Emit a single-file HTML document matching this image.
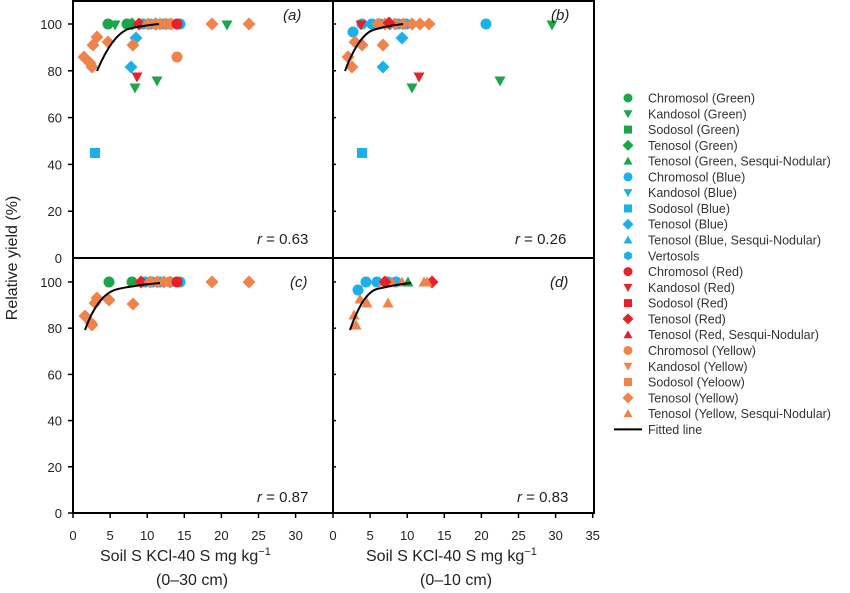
<!DOCTYPE html>
<html><head><meta charset="utf-8"><style>
body{margin:0;background:#fff;width:850px;height:593px;overflow:hidden}
svg{display:block;font-family:"Liberation Sans",sans-serif}
</style></head><body>
<svg id="s" width="850" height="593" viewBox="0 0 850 593" xmlns="http://www.w3.org/2000/svg">
<g stroke="#000" stroke-width="2" fill="none">
<rect x="73" y="1" width="521" height="512"/>
<line x1="333" y1="1" x2="333" y2="513"/>
<line x1="73" y1="258" x2="594" y2="258"/>
</g>
<g id="ax" font-size="13" fill="#222"></g>
<g id="pts"></g>
<g stroke="#000" stroke-width="2" fill="none">
<path d="M97,71 C105,52 115,34 128,29 C140,26 150,25 159,24"/>
<path d="M345,71 C352,52 362,34 373,30 C385,26 395,25 403,24"/>
<path d="M85,330 C92,310 103,292 118,289 C132,286 146,284 160,283"/>
<path d="M350,330 C357,310 366,292 377,289 C390,286 400,284 411,283"/>
</g>
<g font-size="15" fill="#222">
<text x="283" y="20" font-style="italic">(<tspan>a</tspan>)</text>
<text x="551" y="20" font-style="italic">(b)</text>
<text x="290" y="287" font-style="italic">(c)</text>
<text x="550" y="287" font-style="italic">(d)</text>
<text x="257" y="244"><tspan font-style="italic">r</tspan> = 0.63</text>
<text x="515" y="244"><tspan font-style="italic">r</tspan> = 0.26</text>
<text x="257" y="502"><tspan font-style="italic">r</tspan> = 0.87</text>
<text x="517" y="502"><tspan font-style="italic">r</tspan> = 0.83</text>
<text x="100" y="561" font-size="16">Soil S KCl-40 S mg kg<tspan dy="-6" font-size="11">−1</tspan></text>
<text x="156" y="585" font-size="16">(0–30 cm)</text>
<text x="366" y="561" font-size="16">Soil S KCl-40 S mg kg<tspan dy="-6" font-size="11">−1</tspan></text>
<text x="420" y="585" font-size="16">(0–10 cm)</text>
<text transform="translate(17,258) rotate(-90)" text-anchor="middle" font-size="16">Relative yield (%)</text>
</g>
<g id="leg" font-size="12.5" fill="#333"></g>
</svg>
<script>
var NS="http://www.w3.org/2000/svg";
function el(p,t,a,txt){var e=document.createElementNS(NS,t);for(var k in a)e.setAttribute(k,a[k]);if(txt!=null)e.textContent=txt;p.appendChild(e);return e;}
var ax=document.getElementById('ax');
for(var i=0;i<=5;i++){var v=i*20;
 var y1=258-v*2.34, y2=513-v*2.31;
 [y1,y2].forEach(function(y,j){ if(j==0&&v==0)return;
  el(ax,'line',{x1:68,y1:y,x2:73,y2:y,stroke:'#000','stroke-width':1.5});
  el(ax,'line',{x1:333,y1:y,x2:336,y2:y,stroke:'#000','stroke-width':1.5});
  el(ax,'text',{x:62,y:y+5,'text-anchor':'end'},v);});
}
el(ax,'text',{x:62,y:263,'text-anchor':'end'},'0');
for(var i=0;i<=7;i++){
 var x=73+i*5*7.42; if(i<7){el(ax,'line',{x1:x,y1:513,x2:x,y2:518,stroke:'#000','stroke-width':1.5});el(ax,'text',{x:x,y:540,'text-anchor':'middle'},i*5);}
 var x2=333+i*5*7.42;el(ax,'line',{x1:x2,y1:513,x2:x2,y2:518,stroke:'#000','stroke-width':1.5});el(ax,'text',{x:x2,y:540,'text-anchor':'middle'},i*5);
}
var C={g:'#1aa64a',b:'#1cb0ea',r:'#e8202a',o:'#f0834a'};
function mk(p,s,c,x,y,r){r=r||5.5;var f=C[c];
 if(s=='c')el(p,'circle',{cx:x,cy:y,r:r,fill:f});
 else if(s=='s')el(p,'rect',{x:x-r+0.5,y:y-r+0.5,width:2*r-1,height:2*r-1,fill:f});
 else if(s=='d')el(p,'polygon',{points:[x,y-r-1,x+r+1,y,x,y+r+1,x-r-1,y].join(','),fill:f});
 else if(s=='v')el(p,'polygon',{points:[x-r,y-r+1,x+r,y-r+1,x,y+r].join(','),fill:f});
 else if(s=='t')el(p,'polygon',{points:[x-r,y+r-1,x+r,y+r-1,x,y-r].join(','),fill:f});
 else if(s=='h'){var q=[];for(var k=0;k<6;k++){var a=Math.PI/3*k+Math.PI/6;q.push(x+r*Math.cos(a),y+r*Math.sin(a));}el(p,'polygon',{points:q.join(','),fill:f});}
}
var P=document.getElementById('pts');
var data=[
['c','g',108,24],['v','g',115,25],['c','g',127,24],['d','g',132,24],
['c','b',143,24],['c','b',150,24],['d','b',156,24],['c','b',163,24],['c','b',170,24],['c','b',180,24],
['d','r',139,24],['d','o',148,24],['d','o',155,24],['d','o',160,24],['d','o',166,24],['d','o',171,24],['c','r',177,24],
['d','o',212,24],['v','g',227,25],['d','o',249,24],
['d','o',97,37],['d','o',93,45],['d','o',108,42],['d','b',136,38],['d','o',133,45],
['d','o',84,57],['d','o',90,63],['d','o',92,67],['c','o',177,57],['d','b',131,67],
['v','r',137,77],['v','g',157,81],['v','g',135,88],['s','b',95,153],
['c','b',353,32],['c','b',362,24],['v','r',361,25],['c','b',372,24],['c','b',380,24],['d','b',390,24],['c','b',398,24],['c','b',406,24],
['d','o',378,24],['d','o',385,24],['d','o',395,24],['d','o',403,24],['d','o',412,24],['d','o',420,24],['d','o',429,24],['d','r',389,23],
['c','b',486,24],['v','g',552,25],
['d','o',355,42],['d','o',362,45],['d','o',383,45],['d','o',348,57],['d','o',352,67],
['d','b',402,38],['d','b',383,67],['v','r',419,77],['v','g',500,81],['v','g',412,88],['s','b',362,153],
['c','g',109,282],['c','g',132,282],['c','b',145,282],['c','b',152,282],['c','b',160,282],['c','b',170,282],['c','b',180,282],
['d','r',141,282],['d','o',150,282],['d','o',157,282],['d','o',164,282],['d','o',170,282],['c','r',177,282],
['d','o',212,282],['d','o',249,282],
['d','o',97,298],['d','o',95,303],['d','o',109,300],['d','o',133,304],['d','o',85,316],['d','o',91,323],['d','o',92,325],
['c','b',366,282],['c','b',358,290],['c','b',377,282],['c','b',388,282],['c','b',396,282],
['t','o',383,282],['t','o',392,282],['d','r',385,282],['t','o',402,282],['t','g',408,282],['t','o',424,282],['d','r',432,282],['t','o',427,282],
['t','o',360,299],['t','o',367,303],['t','o',388,303],['t','o',354,315],['t','o',356,325]
];
data.forEach(function(d){mk(P,d[0],d[1],d[2],d[3]);});
var L=document.getElementById('leg');
var items=[['c','g','Chromosol (Green)'],['v','g','Kandosol (Green)'],['s','g','Sodosol (Green)'],['d','g','Tenosol (Green)'],['t','g','Tenosol (Green, Sesqui-Nodular)'],
['c','b','Chromosol (Blue)'],['v','b','Kandosol (Blue)'],['s','b','Sodosol (Blue)'],['d','b','Tenosol (Blue)'],['t','b','Tenosol (Blue, Sesqui-Nodular)'],['h','b','Vertosols'],
['c','r','Chromosol (Red)'],['v','r','Kandosol (Red)'],['s','r','Sodosol (Red)'],['d','r','Tenosol (Red)'],['t','r','Tenosol (Red, Sesqui-Nodular)'],
['c','o','Chromosol (Yellow)'],['v','o','Kandosol (Yellow)'],['s','o','Sodosol (Yeloow)'],['d','o','Tenosol (Yellow)'],['t','o','Tenosol (Yellow, Sesqui-Nodular)']];
items.forEach(function(it,i){var y=98+i*15.78;mk(L,it[0],it[1],628,y,4.5);el(L,'text',{x:648,y:y+4.5},it[2]);});
var yl=98+21*15.78;el(L,'line',{x1:614,y1:yl,x2:642,y2:yl,stroke:'#000','stroke-width':2});el(L,'text',{x:648,y:yl+4.5},'Fitted line');
</script>
</body></html>
